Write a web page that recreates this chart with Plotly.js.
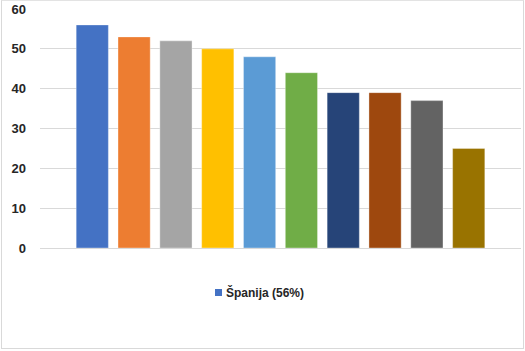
<!DOCTYPE html>
<html>
<head>
<meta charset="utf-8">
<script src="https://cdn.plot.ly/plotly-3.0.1.min.js"></script>
<style>
html,body{margin:0;padding:0;background:#fff;}
#frame{position:absolute;left:1px;top:0px;width:523px;height:349px;border:1px solid #d9d9d9;border-top-color:#e3e3e3;box-sizing:border-box;}
#chart{position:absolute;left:0;top:0;width:525px;height:351px;}
</style>
</head>
<body>
<div id="frame"></div>
<div id="chart"></div>
<script>
var categories = ["1","2","3","4","5","6","7","8","9","10"];
var values = [56, 53, 52, 50, 48, 44, 39, 39, 37, 25];
var barColors = ["#4472C4","#ED7D31","#A5A5A5","#FFC000","#5B9BD5","#70AD47","#264478","#9E480E","#636363","#997300"];
var seriesName = "Španija (56%)";
var yTicks = [0,10,20,30,40,50,60];

var trace = {
  type: "bar",
  x: categories,
  y: values,
  name: seriesName,
  showlegend: false,
  width: 0.77,
  marker: {color: barColors, line: {color: "rgba(255,255,255,0.35)", width: 1}},
  hoverinfo: "y"
};

var layout = {
  width: 525,
  height: 351,
  margin: {l: 40, r: 4, t: 9, b: 103, pad: 0},
  paper_bgcolor: "rgba(0,0,0,0)",
  plot_bgcolor: "rgba(0,0,0,0)",
  font: {family: "Liberation Sans, Arial, sans-serif", color: "#262626"},
  xaxis: {
    type: "category",
    range: [-1.25, 10.25],
    showticklabels: false,
    showgrid: false,
    zeroline: false,
    showline: false,
    ticks: ""
  },
  yaxis: {
    range: [0, 60],
    tickvals: yTicks,
    ticktext: yTicks.map(String),
    showgrid: true,
    gridcolor: "#d9d9d9",
    gridwidth: 1,
    zeroline: true,
    zerolinecolor: "#d9d9d9",
    zerolinewidth: 1,
    showline: false,
    ticks: "",
    ticklabelstandoff: 13,
    tickfont: {size: 13, color: "#262626", family: "Liberation Sans, Arial, sans-serif", weight: "bold"}
  },
  showlegend: false,
  shapes: [{
    type: "rect", xref: "paper", yref: "paper",
    x0: 0.3638, x1: 0.3784, y0: -0.2008, y1: -0.1715,
    fillcolor: barColors[0], line: {width: 0}
  }],
  annotations: [{
    xref: "paper", yref: "paper",
    x: 0.3846, y: -0.1862, xanchor: "left", yanchor: "middle",
    text: seriesName, showarrow: false, borderpad: 0,
    font: {size: 12, color: "#262626", family: "Liberation Sans, Arial, sans-serif", weight: "bold"}
  }],
  bargap: 0.23
};

Plotly.newPlot("chart", [trace], layout, {displayModeBar: false, staticPlot: true});
</script>
</body>
</html>
